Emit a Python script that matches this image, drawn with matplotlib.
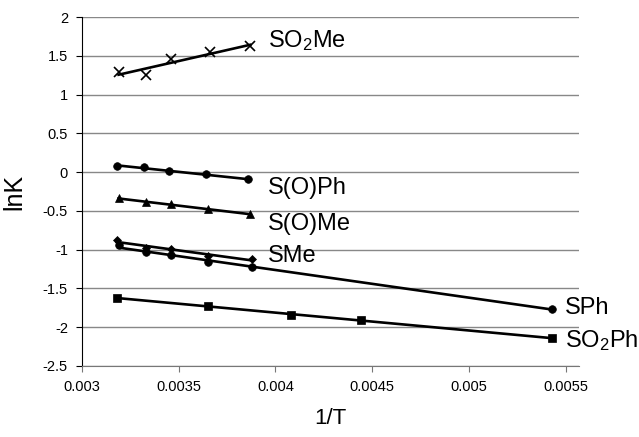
"""
    lnK vs 1/T plot with linear trendlines for each substituent.
"""
import numpy as np
import matplotlib
matplotlib.use("Agg")
import matplotlib.pyplot as plt

plt.rcParams['font.family'] = ['Liberation Sans', 'DejaVu Sans']
plt.rcParams['mathtext.fontset'] = 'custom'
plt.rcParams['mathtext.rm'] = 'Liberation Sans'
plt.rcParams['mathtext.it'] = 'Liberation Sans:italic'

# data
so2me_x = [0.00319, 0.00333, 0.00346, 0.00366, 0.00387]
so2me_y = [1.29, 1.25, 1.456, 1.543, 1.628]

sophe_x = [0.00318, 0.00332, 0.00345, 0.00364, 0.00386]
sophe_y = [0.081, 0.061, 0.013, -0.030, -0.094]

some_x = [0.00319, 0.00333, 0.00346, 0.00365, 0.00387]
some_y = [-0.339, -0.383, -0.417, -0.481, -0.541]

sme_x = [0.00318, 0.00333, 0.00346, 0.00365, 0.00388]
sme_y = [-0.876, -0.976, -0.992, -1.082, -1.121]

sph_x = [0.00319, 0.00333, 0.00346, 0.00365, 0.00388, 0.00543]
sph_y = [-0.941, -1.031, -1.074, -1.156, -1.228, -1.765]

so2ph_x = [0.00318, 0.00365, 0.00408, 0.00444, 0.00543]
so2ph_y = [-1.62, -1.73, -1.84, -1.91, -2.14]

SERIES = [
    (so2me_x, so2me_y, "x", r"SO$_\mathrm{2}$Me", (0.00396, 1.70)),
    (sophe_x, sophe_y, "o", "S(O)Ph", (0.00396, -0.206)),
    (some_x, some_y, "^", "S(O)Me", (0.00396, -0.67)),
    (sme_x, sme_y, "D", "SMe", (0.00396, -1.08)),
    (sph_x, sph_y, "o", "SPh", (0.005495, -1.75)),
    (so2ph_x, so2ph_y, "s", r"SO$_\mathrm{2}$Ph", (0.005495, -2.17)),
]

fig = plt.figure(figsize=(6.39, 4.37), dpi=100)
axes = fig.add_axes([0.128, 0.1625, 0.778, 0.7985])

for xs, ys, marker, label, pos in SERIES:
    xs = np.array(xs)
    ys = np.array(ys)
    msize = 6.5 if marker == "x" else 5.5
    if marker == "D":
        msize = 4.5
    axes.plot(xs, ys, linestyle="none", marker=marker, color="black",
              markersize=msize, markeredgewidth=1.2 if marker == "x" else 0.5)
    slope, inter = np.polyfit(xs, ys, 1)
    fit_x = np.array([xs.min(), xs.max()])
    axes.plot(fit_x, slope * fit_x + inter, color="black", linewidth=1.9)
    axes.text(pos[0], pos[1], label, fontsize=17, va="center", ha="left",
              clip_on=False)

axes.set_xlim(0.003, 0.005567)
axes.set_ylim(-2.5, 2)
axes.set_xticks([0.003, 0.0035, 0.004, 0.0045, 0.005, 0.0055])
axes.set_xticklabels(["0.003", "0.0035", "0.004", "0.0045", "0.005", "0.0055"])
axes.set_yticks(np.arange(-2.5, 2.01, 0.5))
axes.set_yticklabels(["-2.5", "-2", "-1.5", "-1", "-0.5", "0", "0.5", "1", "1.5", "2"])
axes.yaxis.grid(True, color="#888888", linewidth=1)
axes.set_axisbelow(True)
axes.spines["top"].set_visible(False)
axes.spines["right"].set_visible(False)
axes.spines["bottom"].set_color("#777777")
axes.tick_params(axis="both", labelsize=10.5, length=4, direction="out", pad=6)
axes.tick_params(axis="x", colors="#777777", labelcolor="black")
axes.set_xlabel("1/T", fontsize=16, labelpad=10)
axes.set_ylabel("lnK", fontsize=18, labelpad=12)

plt.savefig("out.png", dpi=100)
